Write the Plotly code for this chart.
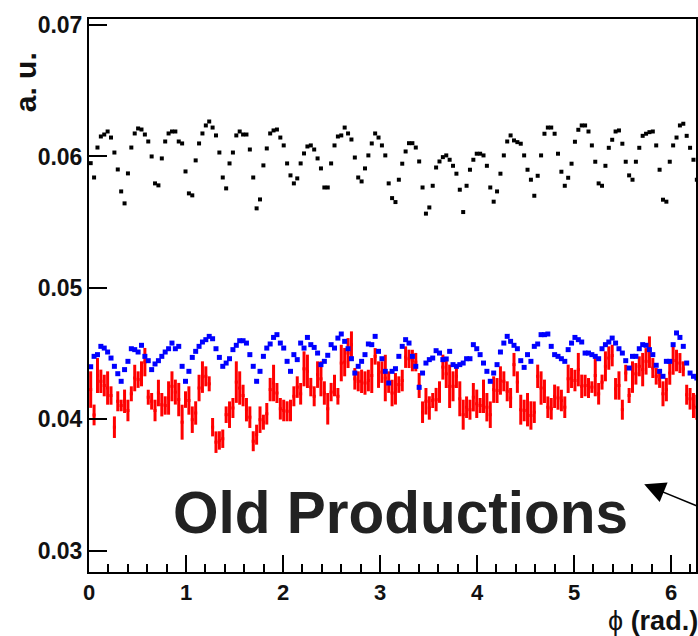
import numpy as np
import plotly.graph_objects as go

# 180 phi bins over [0, 2pi)
N_BINS = 180
phi = (np.arange(N_BINS) + 0.5) * 2 * np.pi / N_BINS

# black series
black_vals = [
    0.05949, 0.05840, 0.06068, 0.06152, 0.06167, 0.06190, 0.06144, 0.06030, 0.05901, 0.05734,
    0.05643, 0.05871, 0.06068, 0.06175, 0.06213, 0.06205, 0.06167, 0.06114, 0.06000, 0.05795,
    0.05780, 0.05985, 0.06114, 0.06175, 0.06190, 0.06190, 0.06114, 0.06099, 0.05886, 0.05719,
    0.05704, 0.05970, 0.06099, 0.06175, 0.06236, 0.06266, 0.06220, 0.06160, 0.06030, 0.05840,
    0.05757, 0.05947, 0.06030, 0.06160, 0.06190, 0.06167, 0.06167, 0.06053, 0.05840, 0.05605,
    0.05673, 0.05932, 0.06061, 0.06175, 0.06198, 0.06205, 0.06144, 0.06084, 0.05947, 0.05856,
    0.05795, 0.05833, 0.05947, 0.06023, 0.06076, 0.06084, 0.06053, 0.05985, 0.05909, 0.05764,
    0.05764, 0.05947, 0.06084, 0.06152, 0.06160, 0.06220, 0.06175, 0.06129, 0.05992, 0.05840,
    0.05810, 0.05909, 0.06008, 0.06099, 0.06175, 0.06144, 0.06084, 0.06008, 0.05795,
    0.05683, 0.05653, 0.05823, 0.05945, 0.06038, 0.06101, 0.06101, 0.06068, 0.05962, 0.05764,
    0.05565, 0.05612, 0.05777, 0.05916, 0.05962, 0.05995, 0.06008, 0.05975, 0.05929, 0.05869,
    0.05747, 0.05577, 0.05777, 0.05899, 0.05975, 0.06021, 0.06021, 0.06008, 0.05929, 0.05764,
    0.05656, 0.05734, 0.05869, 0.06008, 0.06114, 0.06160, 0.06122, 0.06109, 0.06097, 0.06008,
    0.05899, 0.05823, 0.05701, 0.05853, 0.06008, 0.06173, 0.06220, 0.06220, 0.06173, 0.06021,
    0.05884, 0.05777, 0.05838, 0.05945, 0.06112, 0.06203, 0.06236, 0.06236, 0.06190, 0.06084,
    0.05960, 0.05795, 0.05777, 0.05929, 0.06066, 0.06127, 0.06190, 0.06198, 0.06097, 0.05960,
    0.05856, 0.05823, 0.05960, 0.06066, 0.06157, 0.06173, 0.06185, 0.06190, 0.06084, 0.05899,
    0.05671, 0.05656, 0.05960, 0.06084, 0.06144, 0.06236, 0.06249, 0.06157, 0.06066, 0.05975,
    0.05823,
]

# blue series
blue_vals = [
    0.04400, 0.04479, 0.04492, 0.04555, 0.04542, 0.04512, 0.04466, 0.04403, 0.04347, 0.04289,
    0.04378, 0.04441, 0.04537, 0.04530, 0.04512, 0.04563, 0.04479, 0.04446, 0.04378, 0.04421,
    0.04446, 0.04479, 0.04512, 0.04537, 0.04580, 0.04537, 0.04555, 0.04403, 0.04289, 0.04365,
    0.04471, 0.04517, 0.04555, 0.04588, 0.04606, 0.04631, 0.04613, 0.04537, 0.04471, 0.04403,
    0.04428, 0.04461, 0.04530, 0.04563, 0.04598,
    0.04598, 0.04580, 0.04492, 0.04403, 0.04289, 0.04365, 0.04479, 0.04542, 0.04573, 0.04623,
    0.04644, 0.04580, 0.04542, 0.04441, 0.04365, 0.04492, 0.04454, 0.04580, 0.04542, 0.04623,
    0.04568, 0.04547, 0.04504, 0.04416, 0.04441, 0.04487, 0.04568, 0.04542, 0.04618, 0.04649,
    0.04593, 0.04537, 0.04461, 0.04352, 0.04403, 0.04441, 0.04492, 0.04573, 0.04568, 0.04631,
    0.04517, 0.04461, 0.04365, 0.04276,
    0.04365, 0.04385, 0.04479, 0.04555, 0.04606, 0.04580, 0.04479, 0.04403, 0.04243, 0.04352,
    0.04428, 0.04454, 0.04466, 0.04522, 0.04504, 0.04454, 0.04459, 0.04517, 0.04416, 0.04403,
    0.04416, 0.04428, 0.04461, 0.04461, 0.04568, 0.04537, 0.04492, 0.04428, 0.04365, 0.04289,
    0.04352, 0.04416, 0.04512, 0.04580, 0.04631, 0.04593, 0.04563, 0.04537, 0.04446, 0.04395,
    0.04492, 0.04441, 0.04555, 0.04573, 0.04644,
    0.04644, 0.04649, 0.04555, 0.04492, 0.04479, 0.04461, 0.04441, 0.04530, 0.04580, 0.04623,
    0.04606, 0.04588, 0.04504, 0.04504, 0.04492, 0.04479, 0.04461, 0.04537, 0.04568, 0.04588,
    0.04618, 0.04580, 0.04537, 0.04504, 0.04446, 0.04390, 0.04479, 0.04479, 0.04537, 0.04568,
    0.04563, 0.04530, 0.04492, 0.04411, 0.04365, 0.04327, 0.04441, 0.04441, 0.04568, 0.04657,
    0.04623, 0.04555, 0.04428, 0.04352, 0.04327, 0.04314,
]

# red series with its uncertainties
red_vals = [
    0.04226, 0.04033, 0.04333, 0.04289, 0.04257, 0.04238, 0.04181, 0.03940, 0.04137, 0.04105,
    0.04137, 0.04067, 0.04194, 0.04314, 0.04302, 0.04346, 0.04435, 0.04168, 0.04137, 0.04067,
    0.04200, 0.04111, 0.04105, 0.04162, 0.04251, 0.04207, 0.04150, 0.03978, 0.04150, 0.04143,
    0.03997, 0.04048, 0.04238, 0.04321, 0.04327, 0.04270, 0.03940, 0.03826, 0.03839, 0.03852,
    0.04035, 0.04035, 0.04086, 0.04283, 0.04238,
    0.04181, 0.04073, 0.04016, 0.03833, 0.03883, 0.03997, 0.03978, 0.04042, 0.04226, 0.04276,
    0.04200, 0.04080, 0.04067, 0.04061, 0.04067, 0.04175, 0.04245, 0.04194, 0.04384, 0.04365,
    0.04245, 0.04175, 0.04340, 0.04308, 0.04200, 0.04080, 0.04207, 0.04257, 0.04175, 0.04428,
    0.04435, 0.04504, 0.04568, 0.04308, 0.04289, 0.04289, 0.04276, 0.04295, 0.04333, 0.04479,
    0.04340, 0.04359, 0.04314, 0.04283,
    0.04200, 0.04232, 0.04264, 0.04295, 0.04473, 0.04460, 0.04447, 0.04435, 0.04257, 0.04054,
    0.04137, 0.04086, 0.04143, 0.04150, 0.04207, 0.04397, 0.04346, 0.04251, 0.04251, 0.04327,
    0.04156, 0.04035, 0.04092, 0.04073, 0.04168, 0.04118, 0.04105, 0.04175, 0.04092, 0.04035,
    0.04226, 0.04219, 0.04295, 0.04289, 0.04213, 0.04162, 0.04416, 0.04283, 0.04073, 0.04067,
    0.04073, 0.04029, 0.04054, 0.04327, 0.04238,
    0.04213, 0.04092, 0.04080, 0.04175, 0.04162, 0.04143, 0.04092, 0.04308, 0.04314, 0.04295,
    0.04378, 0.04251, 0.04257, 0.04238, 0.04245, 0.04333, 0.04194, 0.04283, 0.04403, 0.04466,
    0.04485, 0.04232, 0.04257, 0.04073, 0.04352, 0.04181, 0.04321, 0.04346, 0.04403, 0.04378,
    0.04441, 0.04511, 0.04390, 0.04327, 0.04302, 0.04194, 0.04226, 0.04352, 0.04447, 0.04447,
    0.04428, 0.04384, 0.04187, 0.04156, 0.04105, 0.04092,
]

red_errs = [
    0.00139, 0.00079, 0.00133, 0.00089, 0.00082, 0.00127, 0.00070, 0.00082, 0.00076, 0.00044,
    0.00089, 0.00082, 0.00057, 0.00101, 0.00063, 0.00095, 0.00108, 0.00057, 0.00063, 0.00082,
    0.00101, 0.00089, 0.00070, 0.00127, 0.00114, 0.00095, 0.00127, 0.00133, 0.00063, 0.00108,
    0.00101, 0.00089, 0.00101, 0.00120, 0.00076, 0.00057, 0.00070, 0.00082, 0.00070, 0.00070,
    0.00063, 0.00101, 0.00076, 0.00158, 0.00127,
    0.00082, 0.00089, 0.00082, 0.00076, 0.00076, 0.00101, 0.00057, 0.00082, 0.00089, 0.00139,
    0.00076, 0.00082, 0.00082, 0.00076, 0.00082, 0.00076, 0.00082, 0.00082, 0.00133, 0.00127,
    0.00070, 0.00076, 0.00101, 0.00133, 0.00089, 0.00120, 0.00070, 0.00082, 0.00063, 0.00139,
    0.00108, 0.00114, 0.00101, 0.00082, 0.00076, 0.00089, 0.00089, 0.00082, 0.00133, 0.00063,
    0.00101, 0.00082, 0.00177, 0.00082,
    0.00101, 0.00120, 0.00063, 0.00082, 0.00082, 0.00070, 0.00082, 0.00070, 0.00095, 0.00082,
    0.00101, 0.00089, 0.00057, 0.00089, 0.00082, 0.00095, 0.00108, 0.00165, 0.00114, 0.00089,
    0.00133, 0.00114, 0.00082, 0.00076, 0.00108, 0.00108, 0.00057, 0.00127, 0.00108, 0.00101,
    0.00101, 0.00095, 0.00108, 0.00076, 0.00076, 0.00076, 0.00089, 0.00082, 0.00114, 0.00082,
    0.00127, 0.00108, 0.00082, 0.00089, 0.00127,
    0.00089, 0.00082, 0.00082, 0.00089, 0.00089, 0.00082, 0.00082, 0.00108, 0.00076, 0.00082,
    0.00127, 0.00089, 0.00082, 0.00076, 0.00044, 0.00158, 0.00082, 0.00057, 0.00114, 0.00089,
    0.00082, 0.00082, 0.00108, 0.00076, 0.00063, 0.00057, 0.00120, 0.00082, 0.00076, 0.00127,
    0.00101, 0.00120, 0.00076, 0.00063, 0.00063, 0.00095, 0.00089, 0.00089, 0.00108, 0.00082,
    0.00076, 0.00057, 0.00076, 0.00082, 0.00095, 0.00095,
]

y_ticks = [0.03, 0.04, 0.05, 0.06, 0.07]
y_ticktext = ["0.03", "0.04", "0.05", "0.06", "0.07"]
x_ticks = [0, 1, 2, 3, 4, 5, 6]

FONT = "Liberation Sans, Arial, Helvetica, sans-serif"

fig = go.Figure()

fig.add_trace(go.Scatter(
    x=phi, y=black_vals, mode="markers",
    marker=dict(symbol="square", size=4, color="black", line=dict(width=0)),
    showlegend=False,
))

fig.add_trace(go.Scatter(
    x=phi, y=red_vals, mode="markers",
    marker=dict(symbol="square", size=3, color="#ff0000", line=dict(width=0)),
    error_y=dict(type="data", array=red_errs, visible=True,
                 color="#ff0000", thickness=3, width=0),
    showlegend=False,
))

fig.add_trace(go.Scatter(
    x=phi, y=blue_vals, mode="markers",
    marker=dict(symbol="square", size=5, color="#0000ff", line=dict(width=0)),
    showlegend=False,
))

axis_font = dict(family=FONT, size=22, color="#111111", weight="bold")

fig.update_xaxes(
    range=[0, 6.257],
    showline=True, linewidth=2, linecolor="black", mirror=True,
    ticks="inside", ticklen=17, tickwidth=2, tickcolor="black",
    tickvals=x_ticks, ticktext=[str(v) for v in x_ticks],
    minor=dict(ticks="inside", ticklen=8, tickwidth=2, tickcolor="black",
               dtick=0.2, tick0=0, showgrid=False),
    showgrid=False, zeroline=False,
    tickfont=axis_font,
)
fig.update_yaxes(
    range=[0.02838, 0.07046],
    showline=True, linewidth=2, linecolor="black", mirror=True,
    ticks="inside", ticklen=18, tickwidth=2, tickcolor="black",
    tickvals=y_ticks, ticktext=y_ticktext,
    showgrid=False, zeroline=False,
    tickfont=dict(family=FONT, size=23, color="#111111", weight="bold"),
)

fig.update_layout(
    width=698, height=636,
    margin=dict(l=89, r=0, t=19, b=64, pad=0),
    paper_bgcolor="white", plot_bgcolor="white",
    font=dict(family=FONT, color="black"),
    annotations=[
        # y-axis title
        dict(text="a. u.", xref="paper", yref="paper", x=-0.1051, y=0.886,
             xanchor="center", yanchor="middle", textangle=-90, showarrow=False,
             font=dict(family=FONT, size=30, color="#111111", weight="bold")),
        # x-axis title
        dict(text="ϕ <b>(rad.)</b>", xref="paper", yref="paper", x=1.006, y=-0.0895,
             xanchor="right", yanchor="middle", showarrow=False,
             font=dict(family=FONT, size=27, color="#111111")),
        # label
        dict(text="Old Productions", xref="paper", yref="paper", x=0.514, y=0.108,
             xanchor="center", yanchor="middle", showarrow=False,
             font=dict(family=FONT, size=58.5, color="#222222", weight="bold")),
        # pointer
        dict(text="", x=5.723, y=0.03505, xref="x", yref="y",
             ax=110, ay=22, axref="pixel", ayref="pixel",
             showarrow=True, arrowhead=2, arrowsize=2.8, arrowwidth=1.5,
             arrowcolor="black", standoff=0, startstandoff=0),
    ],
)

fig.write_html("out.html")
